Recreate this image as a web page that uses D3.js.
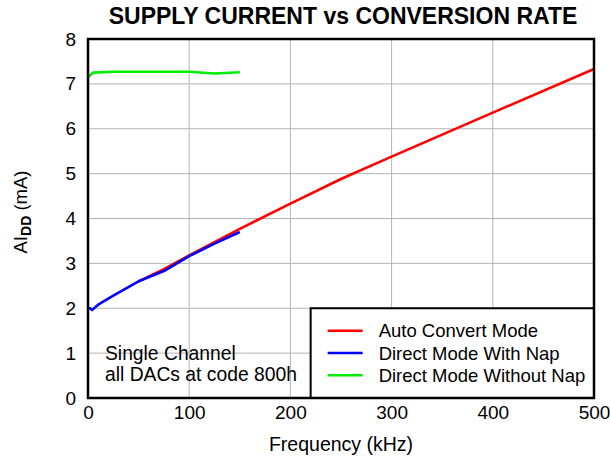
<!DOCTYPE html>
<html>
<head>
<meta charset="utf-8">
<script src="https://cdn.jsdelivr.net/npm/d3@7"></script>
<style>
  body { margin: 0; background: #fff; }
  text { font-family: "Liberation Sans", Arial, sans-serif; fill: #000; }
</style>
</head>
<body>
<script>
// frequency (kHz) / supply current (mA)
var autoConvert = [[50, 2.6], [75, 2.87], [100, 3.18], [150, 3.77], [200, 4.33], [250, 4.88], [300, 5.38], [400, 6.36], [500, 7.33]];
var directNap = [[0, 2.0], [2, 2.0], [4, 1.96], [10, 2.08], [25, 2.28], [50, 2.6], [75, 2.83], [100, 3.16], [125, 3.44], [150, 3.7]];
var directNoNap = [[0, 7.14], [1, 7.17], [5, 7.25], [25, 7.27], [100, 7.27], [125, 7.23], [150, 7.26]];

var seriesNames = ["Auto Convert Mode", "Direct Mode With Nap", "Direct Mode Without Nap"];
var seriesColors = ["#ff0000", "#0000ff", "#00ee00"];
var xTicks = [0, 100, 200, 300, 400, 500];
var yTicks = [0, 1, 2, 3, 4, 5, 6, 7, 8];
var noteLines = ["Single Channel", "all DACs at code 800h"];

var margin = { top: 39, right: 16, bottom: 60, left: 88 },
   width = 610 - margin.left - margin.right,
   height = 458 - margin.top - margin.bottom;

var x = d3.scaleLinear().domain([0, 500]).range([0, width]);
var y = d3.scaleLinear().domain([0, 8]).range([height, 0]);

var svg = d3.select("body").append("svg")
   .attr("width", 610)
   .attr("height", 458);

svg.append("text")
   .attr("x", 343)
   .attr("y", 24)
   .attr("text-anchor", "middle")
   .style("font-size", "23px")
   .style("font-weight", "bold")
   .text("SUPPLY CURRENT vs CONVERSION RATE");

var g = svg.append("g")
   .attr("transform", "translate(" + margin.left + "," + margin.top + ")");

// grid
g.selectAll(".vgrid").data(xTicks.slice(1, -1)).enter().append("line")
   .attr("x1", function(d) { return x(d); })
   .attr("x2", function(d) { return x(d); })
   .attr("y1", 0).attr("y2", height)
   .attr("stroke", "#b4b4b4").attr("stroke-width", 1);
g.selectAll(".hgrid").data(yTicks.slice(1, -1)).enter().append("line")
   .attr("y1", function(d) { return y(d); })
   .attr("y2", function(d) { return y(d); })
   .attr("x1", 0).attr("x2", width)
   .attr("stroke", "#b4b4b4").attr("stroke-width", 1);

// axes (labels only, no tick marks)
var xAxis = d3.axisBottom(x).tickValues(xTicks).tickSize(0).tickPadding(8);
var yAxis = d3.axisLeft(y).tickValues(yTicks).tickSize(0).tickPadding(12);

g.append("g")
   .attr("transform", "translate(0," + height + ")")
   .call(xAxis)
   .call(function(s) { s.select(".domain").remove(); })
   .selectAll("text").style("font-size", "19px").style("font-family", "Liberation Sans, Arial, sans-serif");

g.append("g")
   .call(yAxis)
   .call(function(s) { s.select(".domain").remove(); })
   .selectAll("text").style("font-size", "19px").style("font-family", "Liberation Sans, Arial, sans-serif");

// data lines
var line = d3.line()
   .x(function(d) { return x(d[0]); })
   .y(function(d) { return y(d[1]); });

[autoConvert, directNap, directNoNap].forEach(function(data, i) {
   g.append("path")
      .datum(data)
      .attr("fill", "none")
      .attr("stroke", seriesColors[i])
      .attr("stroke-width", 2.6)
      .attr("stroke-linejoin", "round")
      .attr("d", line);
});

// note
noteLines.forEach(function(t, i) {
   g.append("text")
      .attr("x", 17)
      .attr("y", 321 + i * 21)
      .style("font-size", "19.3px")
      .text(t);
});

// legend
var legend = g.append("g")
   .attr("transform", "translate(" + x(220) + "," + y(2.0) + ")");
legend.append("rect")
   .attr("width", width - x(220))
   .attr("height", height - y(2.0))
   .attr("fill", "#fff")
   .attr("stroke", "#000")
   .attr("stroke-width", 2);
seriesNames.forEach(function(n, i) {
   legend.append("line")
      .attr("x1", 17).attr("x2", 52)
      .attr("y1", 22.5 + i * 22.3).attr("y2", 22.5 + i * 22.3)
      .attr("stroke", seriesColors[i])
      .attr("stroke-width", 2.5);
   legend.append("text")
      .attr("x", 68)
      .attr("y", 29 + i * 22.3)
      .style("font-size", "18.5px")
      .text(n);
});

// frame
g.append("rect")
   .attr("width", width)
   .attr("height", height)
   .attr("fill", "none")
   .attr("stroke", "#000")
   .attr("stroke-width", 2.5);

// axis titles
g.append("text")
   .attr("x", width / 2)
   .attr("y", height + 53)
   .attr("text-anchor", "middle")
   .style("font-size", "19.5px")
   .text("Frequency (kHz)");

var yl = svg.append("text")
   .attr("transform", "translate(27,212) rotate(-90)")
   .attr("text-anchor", "middle")
   .style("font-size", "18.5px");
yl.append("tspan").text("AI");
yl.append("tspan").attr("dy", 4).style("font-size", "14px").style("font-weight", "bold").text("DD");
yl.append("tspan").attr("dy", -4).text(" (mA)");
</script>
</body>
</html>
